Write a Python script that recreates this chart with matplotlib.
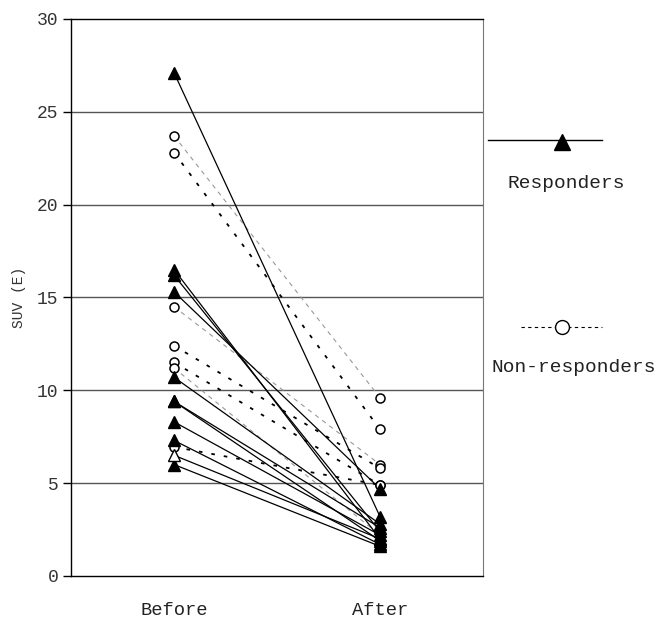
#!/usr/bin/env python3
import matplotlib
matplotlib.use("Agg")
import matplotlib.pyplot as plt
from matplotlib.lines import Line2D

plt.rcParams['font.family'] = ['Liberation Mono', 'DejaVu Sans Mono']

# SUV(E) before and after therapy
time_labels = ["Before", "After"]

responders_before = [27.1, 16.5, 16.2, 15.3, 10.7, 9.4, 9.4, 8.3, 7.3, 6.0]
responders_after = [3.2, 2.0, 2.4, 4.7, 2.8, 2.6, 1.9, 2.2, 1.7, 1.6]

# one responder drawn with an open triangle
open_resp_before = [6.5]
open_resp_after = [2.0]

nonresp_before = [23.7, 22.8, 14.5, 12.4, 11.5, 11.2, 6.95]
nonresp_after = [9.6, 7.9, 6.0, 5.8, 4.9, 2.2, 4.9]
nonresp_style = ["grey", "dot", "grey", "dot", "dot", "grey", "dot"]

fig = plt.figure(figsize=(6.58, 6.19), dpi=100)
ax = fig.add_axes([0.108, 0.0695, 0.626, 0.9])

xs = [0, 1]

# gridlines
for g in [5, 10, 15, 20, 25]:
    ax.axhline(g, color="#555555", lw=1.0, zorder=0)

# non-responders
for b, a, s in zip(nonresp_before, nonresp_after, nonresp_style):
    if s == "grey":
        ax.plot(xs, [b, a], color="#999999", lw=0.8, ls=(0, (4, 4)), zorder=1)
    else:
        ax.plot(xs, [b, a], color="black", lw=1.3, ls=(0, (2, 5)), zorder=1)
    ax.plot(xs, [b, a], ls="none", marker="o", ms=6.5, mfc="white",
            mec="black", mew=1.1, zorder=3)

# responders
for b, a in zip(responders_before, responders_after):
    ax.plot(xs, [b, a], color="black", lw=0.9, zorder=2)
    ax.plot(xs, [b, a], ls="none", marker="^", ms=8, mfc="black",
            mec="black", zorder=4)

for b, a in zip(open_resp_before, open_resp_after):
    ax.plot(xs, [b, a], color="black", lw=0.9, zorder=2)
    ax.plot([0], [b], ls="none", marker="^", ms=8, mfc="white",
            mec="black", mew=1.0, zorder=4)
    ax.plot([1], [a], ls="none", marker="^", ms=8, mfc="black",
            mec="black", zorder=4)

ax.set_xlim(-0.5, 1.5)
ax.set_ylim(0, 30)
ax.set_yticks(range(0, 31, 5))
ax.set_xticks(xs)
ax.set_xticklabels(time_labels, fontsize=13.5, color="#222222")
ax.tick_params(axis="x", length=0, pad=19)
ax.tick_params(axis="y", length=6, width=1, labelsize=13, pad=3, labelcolor="#333333")
ax.set_ylabel("SUV (E)", fontsize=10.5, labelpad=8, color="#333333")

for side in ["left", "top", "bottom"]:
    ax.spines[side].set_color("black")
    ax.spines[side].set_linewidth(1.0)
ax.spines["right"].set_color("#777777")

# hand-placed legend on the right
fig.add_artist(Line2D([488/658, 602/658], [1 - 140/619] * 2, color="black", lw=1))
fig.add_artist(Line2D([562/658], [1 - 142/619], marker="^", ms=12, color="black", ls="none"))
fig.text(566/658, 1 - 183/619, "Responders", ha="center", va="center", fontsize=14,
         color="#222222")

fig.add_artist(Line2D([521/658, 602/658], [1 - 327/619] * 2, color="black", lw=0.8,
                      ls=(0, (3, 3))))
fig.add_artist(Line2D([562/658], [1 - 327/619], marker="o", ms=10, mfc="white",
                      mec="black", ls="none"))
fig.text(574/658, 1 - 367/619, "Non-responders", ha="center", va="center", fontsize=14,
         color="#222222")

fig.savefig("out.png", dpi=100)
